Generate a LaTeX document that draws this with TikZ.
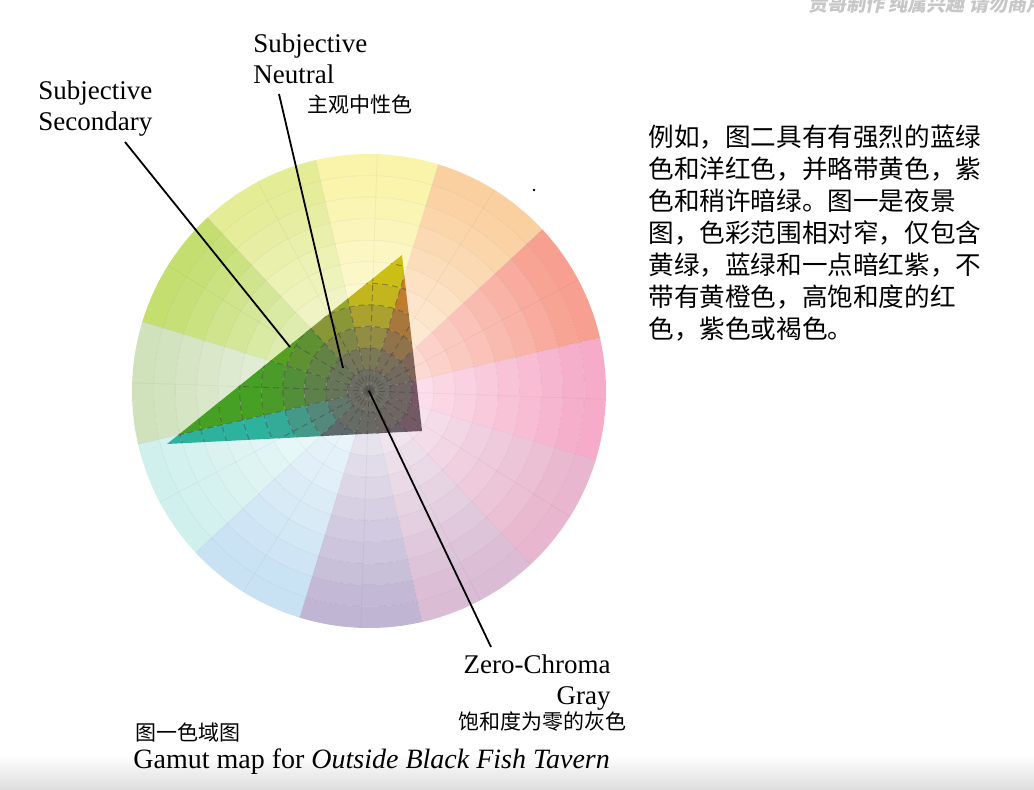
\documentclass[tikz,border=0pt]{standalone}
\usepackage{fontspec}
\setmainfont{Liberation Serif}
\newfontfamily\cjk{Noto Sans CJK SC}
\newfontfamily\cjkslant{Noto Sans CJK SC}[FakeSlant=0.2]
\usepackage{xcolor}
\usepackage{tikz}
\usetikzlibrary{calc}
\usetikzlibrary{positioning}

% wheel hues (pale, outer ring)
\definecolor{wPink}{RGB}{246,172,200}
\definecolor{wSalmon}{RGB}{247,160,145}
\definecolor{wOrange}{RGB}{250,208,160}
\definecolor{wYellow}{RGB}{250,243,170}
\definecolor{wChart}{RGB}{228,236,150}
\definecolor{wLime}{RGB}{196,222,112}
\definecolor{wSage}{RGB}{208,226,188}
\definecolor{wAqua}{RGB}{208,240,238}
\definecolor{wSky}{RGB}{200,226,243}
\definecolor{wLav}{RGB}{192,182,212}
\definecolor{wMauve}{RGB}{218,188,212}
\definecolor{wRose}{RGB}{232,182,206}
% gamut hues (inside the triangle)
\definecolor{gMag}{RGB}{135,55,110}
\definecolor{gBrick}{RGB}{155,90,70}
\definecolor{gOrange}{RGB}{200,125,40}
\definecolor{gOlive}{RGB}{205,190,20}
\definecolor{gChart}{RGB}{155,175,30}
\definecolor{gLeaf}{RGB}{85,165,25}
\definecolor{gGreen}{RGB}{70,160,35}
\definecolor{gTeal}{RGB}{45,178,158}
\definecolor{gSlate}{RGB}{75,100,120}
\definecolor{gIndigo}{RGB}{85,85,115}
\definecolor{gPlum}{RGB}{105,70,105}
\definecolor{gWine}{RGB}{125,60,100}
\definecolor{coreGray}{RGB}{108,108,98}

\begin{document}
\begin{tikzpicture}[x=0.5pt, y=0.5pt]

		\tikzset{
			leader/.style={line width=0.9pt, black},
			gridline/.style={black!75, densely dashed, line width=0.45pt, opacity=0.5},
			faintgrid/.style={black, line width=0.4pt, opacity=0.04},
			enlbl/.style={inner sep=0, font=\fontsize{13.5}{15}\selectfont},
			cnlbl/.style={inner sep=0, font=\cjk\fontsize{10.5}{12}\selectfont}
		}

		\useasboundingbox (0,0) rectangle (1034,789);
		\fill[white] (0,0) rectangle (1034,789);
		\shade[top color=white, bottom color=black!13] (0,0) rectangle (1034,34);

		\def\R{237}    % wheel radius
		\def\d{21.545} % ring step

		% --- hue picker: pale wheel colour and gamut colour ---
		\newcommand{\pickhue}[1]{%
			\ifcase#1\relax \def\wcol{wPink}\def\gcol{gMag}%
			\or \def\wcol{wSalmon}\def\gcol{gBrick}%
			\or \def\wcol{wOrange}\def\gcol{gOrange}%
			\or \def\wcol{wYellow}\def\gcol{gOlive}%
			\or \def\wcol{wChart}\def\gcol{gChart}%
			\or \def\wcol{wLime}\def\gcol{gLeaf}%
			\or \def\wcol{wSage}\def\gcol{gGreen}%
			\or \def\wcol{wAqua}\def\gcol{gTeal}%
			\or \def\wcol{wSky}\def\gcol{gSlate}%
			\or \def\wcol{wLav}\def\gcol{gIndigo}%
			\or \def\wcol{wMauve}\def\gcol{gPlum}%
			\else \def\wcol{wRose}\def\gcol{gWine}\fi}

		\begin{scope}[shift={(369,398)}]
			\coordinate (O) at (0,0);
			\coordinate (gtop) at (33,136);
			\coordinate (gleft) at (-202,-53);
			\coordinate (gright) at (53,-40);

			% Render the pale wheel
			\foreach \k in {0,...,11} {
				\pickhue{\k}
				\pgfmathsetmacro{\a}{-17+30*\k}
				\pgfmathsetmacro{\b}{\a+30}
				\foreach \j in {1,...,11} {
					\pgfmathtruncatemacro{\p}{min(100,16+8*\j)}
					\pgfmathsetmacro{\ri}{(\j-1)*\d}
					\pgfmathsetmacro{\ro}{\j*\d}
					\fill[\wcol!\p!white] (\a:\ri) arc (\a:\b:\ri) -- (\b:\ro) arc (\b:\a:\ro) -- cycle;
				}
			}
			\foreach \j in {1,...,10} { \draw[faintgrid] (O) circle[radius=\j*\d]; }
			\foreach \a in {13,28,...,358} { \draw[faintgrid] (O) -- (\a:\R); }

			% Gamut triangle
			\begin{scope}
				\clip (gtop) -- (gleft) -- (gright) -- cycle;
				\foreach \k in {0,...,11} {
					\pickhue{\k}
					\pgfmathsetmacro{\a}{-17+30*\k}
					\pgfmathsetmacro{\b}{\a+30}
					\foreach \j in {1,...,11} {
						\pgfmathtruncatemacro{\q}{max(0,min(100,15+25*(\j-2)))}
						\pgfmathsetmacro{\ri}{(\j-1)*\d}
						\pgfmathsetmacro{\ro}{\j*\d}
						\fill[\gcol!\q!coreGray] (\a:\ri) arc (\a:\b:\ri) -- (\b:\ro) arc (\b:\a:\ro) -- cycle;
					}
				}
				\foreach \j in {1,...,11} { \draw[gridline] (O) circle[radius=\j*\d]; }
				\foreach \a in {13,28,...,358} { \draw[gridline] (O) -- (\a:\R); }
			\end{scope}

			% leader tips
			\coordinate (sectip) at (-79,44);
			\coordinate (neutip) at (-26,23);
		\end{scope}

		\fill (534,599) circle (1.4);

		% Labels
		\node[enlbl, anchor=north west, align=left] (neutral) at (253,756) {Subjective\\[0.5pt]Neutral};
		\node[cnlbl, anchor=north west] (neutralcn) at (307,695) {主观中性色};
		\node[enlbl, anchor=north west, align=left] (secondary) at (38,709) {Subjective\\[0.5pt]Secondary};
		\node[enlbl, anchor=north east, align=right] (zerochroma) at (611,135) {Zero-Chroma\\[0.5pt]Gray};
		\node[cnlbl, anchor=north east] (zerocn) at (627,78) {饱和度为零的灰色};
		\node[cnlbl, anchor=north west] (figcn) at (135,67) {图一色域图};
		\node[enlbl, anchor=base west, font=\fontsize{14}{16}\selectfont] (caption) at (133,21) {Gamut map for \textit{Outside Black Fish Tavern}};

		\node[inner sep=0, anchor=north west, align=left,
			font=\cjk\fontsize{12.8}{16}\selectfont] (remark) at (648,665)
			{例如，图二具有有强烈的蓝绿\\色和洋红色，并略带黄色，紫\\色和稍许暗绿。图一是夜景\\图，色彩范围相对窄，仅包含\\黄绿，蓝绿和一点暗红紫，不\\带有黄橙色，高饱和度的红\\色，紫色或褐色。};

		\node[inner sep=0, anchor=base west, text=black!22,
			font=\cjkslant\bfseries\fontsize{9.5}{11}\selectfont] (watermark) at (808,777) {贡哥制作 纯属兴趣 请勿商用};

		% Leaders
		\coordinate (secfoot) at (125,647);
		\coordinate (neufoot) at ([xshift=-14pt]neutralcn.north west);
		\coordinate (zerofoot) at (491,142);
		\draw[leader] (secfoot) -- (sectip);
		\draw[leader] (neufoot) -- (neutip);
		\draw[leader] (O) -- (zerofoot);

	\end{tikzpicture}
\end{document}
